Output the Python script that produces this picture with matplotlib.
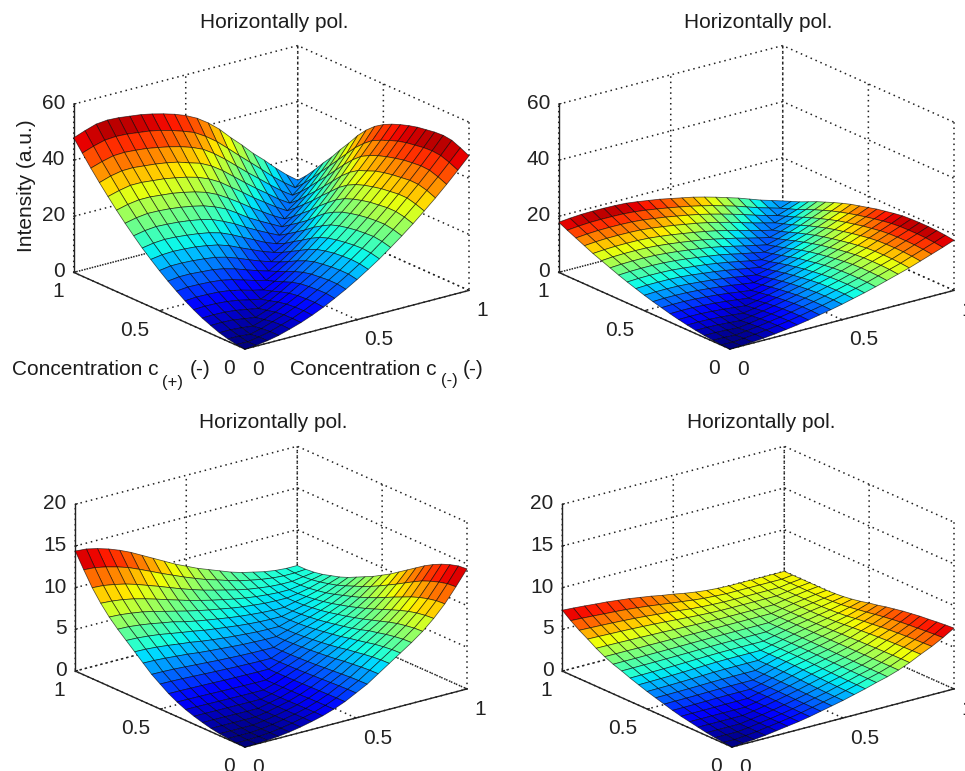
import matplotlib
matplotlib.use('Agg')
import matplotlib.pyplot as plt
from matplotlib.transforms import ScaledTranslation
import numpy as np
from mpl_toolkits.mplot3d import proj3d

plt.rcParams['font.family'] = ['Liberation Sans', 'DejaVu Sans']
plt.rcParams['grid.linestyle'] = (0, (1, 2.5))
plt.rcParams['grid.color'] = '#222222'
plt.rcParams['grid.linewidth'] = 1.1

# concentration grid
conc = [0, .05, .1, .15, .2, .25, .3, .35, .4, .45, .5, .55, .6, .65, .7, .75, .8, .85, .9, .95, 1]
tick_vals = [0, 0.5, 1]
tick_text = ['0', '0.5', '1']
z_ticks_top = [0, 20, 40, 60]
z_ticks_bottom = [0, 5, 10, 15, 20]
title_text = 'Horizontally pol.'

# intensities, row i = c(+) grid point, up to the diagonal (surfaces are symmetric)
rows_a = [
	[0],
	[.25, .1],
	[.85, .8, .4],
	[1.7, 1.7, 1.4, .9],
	[2.9, 3.0, 2.8, 2.2, 1.6],
	[4.2, 4.3, 4.2, 3.8, 3.1, 2.4],
	[5.8, 6.0, 5.9, 5.6, 5.0, 4.1, 3.3],
	[7.6, 7.9, 7.8, 7.6, 7.1, 6.2, 5.1, 4.2],
	[9.7, 10.1, 10.0, 9.8, 9.4, 8.6, 7.4, 6.2, 5.2],
	[11.9, 12.4, 12.4, 12.1, 11.8, 11.1, 10.0, 8.6, 7.3, 6.1],
	[14.3, 14.9, 14.9, 14.7, 14.3, 13.8, 12.8, 11.4, 9.8, 8.3, 7.0],
	[16.9, 17.5, 17.7, 17.5, 17.2, 16.6, 15.8, 14.5, 12.7, 11, 9.3, 7.9],
	[19.6, 20.3, 20.6, 20.4, 20, 19.5, 18.8, 17.7, 16, 14, 12.1, 10.1, 8.6],
	[22.6, 23.4, 23.8, 23.6, 23.3, 22.8, 22.1, 21.1, 19.4, 17.5, 15.2, 13.1, 11.1, 9.2],
	[25.7, 26.6, 27.1, 27, 26.7, 26.2, 25.5, 24.6, 23.2, 21.4, 18.9, 16.2, 14, 11.9, 9.8],
	[29, 30, 30.6, 30.6, 30.2, 29.8, 29.1, 28.2, 27, 25.2, 22.8, 20.2, 17.4, 14.9, 12.4, 10.2],
	[32.5, 33.6, 34.4, 34.4, 34, 33.6, 32.9, 32.1, 31, 29.4, 27.2, 24.3, 21.5, 18.5, 15.8, 13.1, 10.7],
	[36.1, 37.4, 38.2, 38.3, 37.9, 37.5, 36.9, 36.1, 34.8, 33.6, 31.6, 28.9, 25.7, 22.5, 19.4, 16.5, 13.5, 11],
	[39.9, 41.2, 42.2, 42.4, 42.1, 41.7, 41, 40.2, 39.2, 37.9, 36.2, 33.6, 30.5, 27.1, 23.7, 20.5, 17.2, 14.1, 11.4],
	[43.9, 45.3, 46.4, 46.7, 46.5, 46, 45.5, 44.7, 43.6, 42.3, 40.8, 38.4, 35.5, 32, 28.4, 24.9, 21.4, 17.8, 14.6, 11.7],
	[48, 49.5, 50.8, 51.2, 51, 50.5, 50, 49.2, 48.2, 47, 45.5, 43.5, 40.8, 37.5, 33.5, 29.8, 25.8, 22.3, 18.5, 15, 12],
]

rows_b = [
	[0],
	[.1, .03],
	[.36, .32, .1],
	[.71, .72, .54, .25],
	[1.16, 1.2, 1.05, .79, .45],
	[1.7, 1.76, 1.66, 1.43, 1.09, .7],
	[2.3, 2.38, 2.32, 2.1, 1.79, 1.38, .95],
	[3, 3.1, 3.07, 2.88, 2.6, 2.21, 1.72, 1.25],
	[3.8, 3.92, 3.92, 3.76, 3.47, 3.12, 2.66, 2.11, 1.6],
	[4.6, 4.75, 4.75, 4.64, 4.39, 4.02, 3.61, 3.09, 2.48, 1.95],
	[5.5, 5.67, 5.69, 5.62, 5.36, 5.02, 4.64, 4.13, 3.55, 2.88, 2.3],
	[6.5, 6.7, 6.73, 6.68, 6.5, 6.15, 5.68, 5.21, 4.63, 3.97, 3.22, 2.6],
	[7.5, 7.71, 7.78, 7.74, 7.57, 7.22, 6.81, 6.37, 5.78, 5.11, 4.37, 3.54, 2.9],
	[8.6, 8.82, 8.92, 8.9, 8.76, 8.47, 8.06, 7.55, 6.98, 6.39, 5.6, 4.74, 3.96, 3.2],
	[9.8, 10.06, 10.17, 10.18, 10.06, 9.74, 9.35, 8.84, 8.3, 7.69, 6.92, 6.02, 5.1, 4.23, 3.4],
	[11, 11.3, 11.43, 11.44, 11.36, 11.11, 10.67, 10.19, 9.59, 9, 8.23, 7.37, 6.49, 5.45, 4.49, 3.6],
	[12.2, 12.49, 12.67, 12.7, 12.65, 12.45, 12.03, 11.53, 10.94, 10.31, 9.6, 8.8, 7.84, 6.87, 5.77, 4.72, 3.8],
	[13.6, 13.94, 14.14, 14.18, 14.13, 13.98, 13.6, 13.07, 12.5, 11.82, 11.15, 10.34, 9.38, 8.37, 7.22, 6.06, 5.01, 4],
	[15, 15.36, 15.59, 15.65, 15.62, 15.49, 15.16, 14.62, 14.08, 13.38, 12.68, 11.92, 10.95, 9.92, 8.84, 7.66, 6.41, 5.28, 4.2],
	[16.4, 16.78, 17.05, 17.12, 17.1, 17, 16.7, 16.22, 15.62, 14.96, 14.24, 13.46, 12.56, 11.6, 10.46, 9.32, 8, 6.68, 5.54, 4.4],
	[17.9, 18.3, 18.6, 18.7, 18.7, 18.6, 18.4, 17.9, 17.3, 16.7, 15.9, 15.1, 14.3, 13.3, 12.2, 11, 9.8, 8.4, 7, 5.8, 4.6],
]

rows_c = [
	[0],
	[.03, .03],
	[.1, .1, .1],
	[.22, .21, .21, .2],
	[.4, .4, .39, .38, .38],
	[.65, .65, .64, .62, .6, .6],
	[.95, .95, .93, .92, .91, .9, .9],
	[1.3, 1.29, 1.27, 1.25, 1.23, 1.21, 1.2, 1.2],
	[1.75, 1.74, 1.72, 1.69, 1.66, 1.64, 1.62, 1.6, 1.6],
	[2.3, 2.29, 2.26, 2.23, 2.2, 2.16, 2.14, 2.12, 2.1, 2.1],
	[3, 2.98, 2.94, 2.88, 2.82, 2.76, 2.71, 2.66, 2.63, 2.6, 2.6],
	[3.7, 3.68, 3.63, 3.55, 3.46, 3.38, 3.29, 3.23, 3.17, 3.13, 3.11, 3.1],
	[4.6, 4.57, 4.49, 4.38, 4.27, 4.11, 3.99, 3.89, 3.79, 3.7, 3.65, 3.6, 3.6],
	[5.5, 5.46, 5.36, 5.22, 5.04, 4.89, 4.67, 4.5, 4.36, 4.24, 4.14, 4.05, 4.01, 4],
	[6.4, 6.35, 6.23, 6.07, 5.84, 5.62, 5.42, 5.18, 5, 4.84, 4.68, 4.55, 4.46, 4.41, 4.4],
	[7.3, 7.25, 7.1, 6.91, 6.66, 6.44, 6.1, 5.83, 5.6, 5.39, 5.19, 5.01, 4.88, 4.77, 4.7, 4.7],
	[8.3, 8.23, 8.07, 7.87, 7.58, 7.24, 6.91, 6.58, 6.29, 6.01, 5.78, 5.54, 5.34, 5.2, 5.07, 5.02, 5],
	[9.5, 9.41, 9.24, 8.98, 8.64, 8.25, 7.84, 7.44, 7.05, 6.71, 6.38, 6.1, 5.82, 5.6, 5.42, 5.29, 5.2, 5.2],
	[10.9, 10.82, 10.6, 10.3, 9.91, 9.44, 8.98, 8.48, 7.99, 7.55, 7.13, 6.78, 6.45, 6.12, 5.84, 5.65, 5.48, 5.4, 5.4],
	[12.6, 12.51, 12.25, 11.9, 11.48, 10.92, 10.33, 9.73, 9.17, 8.61, 8.09, 7.6, 7.21, 6.79, 6.41, 6.13, 5.88, 5.7, 5.6, 5.6],
	[14.4, 14.3, 14, 13.6, 13.1, 12.5, 11.8, 11.1, 10.4, 9.7, 9.1, 8.5, 8, 7.5, 7, 6.6, 6.3, 6, 5.8, 5.7, 5.7],
]

rows_d = [
	[0],
	[.1, .08],
	[.2, .2, .2],
	[.35, .35, .35, .35],
	[.55, .55, .55, .55, .55],
	[.75, .75, .75, .75, .75, .75],
	[.95, .96, .97, .98, 1, 1, 1],
	[1.2, 1.21, 1.23, 1.25, 1.28, 1.3, 1.3, 1.3],
	[1.5, 1.51, 1.52, 1.54, 1.57, 1.59, 1.6, 1.6, 1.6],
	[1.8, 1.81, 1.83, 1.85, 1.88, 1.92, 1.94, 1.95, 1.95, 1.95],
	[2.1, 2.12, 2.14, 2.18, 2.22, 2.27, 2.32, 2.34, 2.35, 2.35, 2.35],
	[2.45, 2.47, 2.5, 2.53, 2.57, 2.63, 2.68, 2.73, 2.75, 2.75, 2.75, 2.75],
	[2.8, 2.82, 2.84, 2.86, 2.89, 2.93, 2.97, 3.01, 3.04, 3.05, 3.05, 3.05, 3.05],
	[3.2, 3.21, 3.22, 3.23, 3.25, 3.27, 3.29, 3.32, 3.34, 3.35, 3.35, 3.35, 3.35, 3.35],
	[3.55, 3.56, 3.56, 3.57, 3.58, 3.59, 3.6, 3.62, 3.63, 3.64, 3.65, 3.65, 3.65, 3.65, 3.65],
	[4, 4, 4, 3.99, 3.99, 3.98, 3.98, 3.97, 3.96, 3.95, 3.95, 3.95, 3.95, 3.95, 3.95, 3.95],
	[4.55, 4.54, 4.52, 4.49, 4.47, 4.43, 4.4, 4.35, 4.32, 4.27, 4.24, 4.21, 4.2, 4.2, 4.2, 4.2, 4.2],
	[5.2, 5.17, 5.13, 5.09, 5.04, 4.98, 4.91, 4.83, 4.74, 4.65, 4.56, 4.5, 4.46, 4.45, 4.45, 4.45, 4.45, 4.45],
	[5.8, 5.75, 5.7, 5.64, 5.57, 5.49, 5.39, 5.27, 5.16, 5.03, 4.88, 4.78, 4.71, 4.66, 4.65, 4.65, 4.65, 4.65, 4.65],
	[6.5, 6.44, 6.36, 6.27, 6.19, 6.09, 5.96, 5.81, 5.64, 5.46, 5.3, 5.13, 5, 4.92, 4.85, 4.85, 4.85, 4.85, 4.85, 4.85],
	[7.3, 7.22, 7.12, 7, 6.9, 6.75, 6.6, 6.4, 6.2, 5.95, 5.75, 5.5, 5.3, 5.15, 5.05, 5, 5, 5, 5, 5, 5],
]

W, H = 965, 771

# rows only go up to the diagonal, mirror them
def full_table(rows):
	z = np.zeros((len(rows), len(rows)))
	for i, row in enumerate(rows):
		z[i, :i + 1] = row
		z[:i + 1, i] = row
	return z

# pixel of a data point, y counted from the bottom
def to_px(ax, x, y, z):
	xs, ys, _ = proj3d.proj_transform(x, y, z, ax.get_proj())
	return ax.transData.transform((xs, ys))

# moves and scales the 3d axes so the floor corner lands on the wanted pixel
def fit_axes(ax, origin, width):
	ax.apply_aspect()
	p0 = to_px(ax, 0, 0, 0)
	p1 = to_px(ax, 1, 0, 0)
	pos = ax.get_position()
	size = pos.width * W * width / (p1[0] - p0[0])
	ax.set_position([0, 0, size / W, size / H])
	ax.apply_aspect()
	p0 = to_px(ax, 0, 0, 0)
	ax.set_position([(origin[0] - p0[0]) / W, (H - origin[1] - p0[1]) / H, size / W, size / H])

# tick labels a few pixels up
def nudge(axis, dy):
	for tick in axis.get_major_ticks():
		tick.label1.set_transform(tick.label1.get_transform() + ScaledTranslation(0, dy / 100, fig.dpi_scale_trans))

def panel(rows, zticks, origin, width, cmax):
	ax = fig.add_axes([0, 0, 0.5, 0.5 * W / H], projection='3d', proj_type='ortho')
	ax.view_init(elev=20, azim=-127.4)
	ax.set_box_aspect((1, 1, 0.635))
	ax.set_facecolor('none')
	X, Y = np.meshgrid(conc, conc)
	Z = full_table(rows)
	ax.plot_surface(X, Y, Z, cmap='jet', vmin=0, vmax=cmax, rstride=1, cstride=1, edgecolor=(0, 0, 0, 0.65), linewidth=0.55, shade=False)
	ax.set_xlim(0, 1, view_margin=0)
	ax.set_ylim(0, 1, view_margin=0)
	ax.set_zlim(zticks[0], zticks[-1], view_margin=0)
	ax.set_xticks(tick_vals)
	ax.set_yticks(tick_vals)
	ax.set_zticks(zticks)
	ax.set_xticklabels(tick_text, ha='left')
	ax.set_yticklabels(tick_text, ha='right')
	ax.set_zticklabels([str(t) for t in zticks], ha='right', va='center')
	for axis in (ax.xaxis, ax.yaxis, ax.zaxis):
		axis.set_pane_color((1, 1, 1, 0))
		axis.pane.set_edgecolor((1, 1, 1, 0))
		axis.line.set_color('#222222')
		axis.line.set_linewidth(1.0)
		axis._axinfo['tick']['inward_factor'] = 0
		axis._axinfo['tick']['outward_factor'] = 0.12
		axis.set_tick_params(labelsize=15, colors='#222222')
	ax.xaxis.set_tick_params(pad=-1)
	ax.yaxis.set_tick_params(pad=-1)
	ax.zaxis.set_tick_params(pad=-4.5)
	fit_axes(ax, origin, width)
	nudge(ax.xaxis, 3)
	nudge(ax.yaxis, 3)
	nudge(ax.zaxis, 5)
	return ax

fig = plt.figure(figsize=(W / 100, H / 100), dpi=100, facecolor='white')

panel(rows_a, z_ticks_top, (245, 349), 224, 51.5)
panel(rows_b, z_ticks_top, (730, 349), 224, 19)
panel(rows_c, z_ticks_bottom, (245, 747), 222, 14.7)
panel(rows_d, z_ticks_bottom, (732, 747), 222, 7.6)

def put(px, py, s, size=15, ha='center', **kw):
	fig.text(px / W, 1 - py / H, s, fontsize=size, color='#1c1c1c', ha=ha, va='center', **kw)

put(274, 23, title_text)
put(758, 23, title_text)
put(273, 422, title_text)
put(761, 422, title_text)
put(26, 186, 'Intensity (a.u.)', rotation=90)
put(12, 369, 'Concentration c', ha='left')
put(162, 383, '(+)', size=12, ha='left')
put(190, 369, '(-)', ha='left')
put(290, 369, 'Concentration c', ha='left')
put(441, 381, '(-)', size=12, ha='left')
put(463, 369, '(-)', ha='left')

fig.savefig('out.png', dpi=100)
